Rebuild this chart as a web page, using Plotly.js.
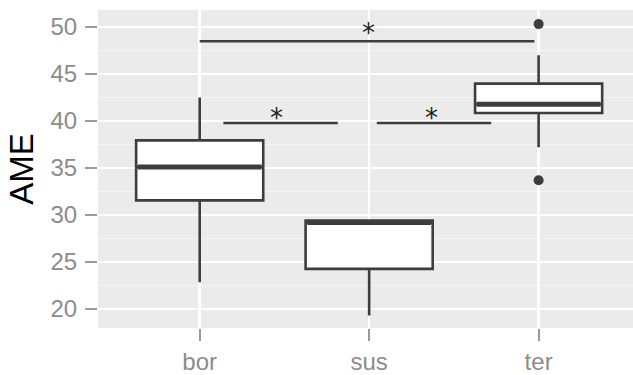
<!DOCTYPE html>
<html>
<head>
<meta charset="utf-8">
<script src="https://cdn.plot.ly/plotly-3.0.1.min.js"></script>
<style>html,body{margin:0;padding:0;background:#fff;}#chart{width:633px;height:375px;}</style>
</head>
<body>
<div id="chart"></div>
<script>
// Categories and box statistics
const categories = ['bor', 'sus', 'ter'];
const positions = [0, 1, 2];
const lowerWhisker = [22.85, 19.3, 37.2];
const q1 = [31.55, 24.27, 40.84];
const median = [35.1, 29.2, 41.77];
const q3 = [37.93, 29.4, 43.97];
const upperWhisker = [42.5, 29.5, 47.0];
const outlierX = [2, 2];
const outlierY = [50.3, 33.7];

// Significance brackets: [x start, x end, y] and star positions
const bracketX0 = [0.0, 0.14, 1.045];
const bracketX1 = [1.975, 0.815, 1.72];
const bracketY = [48.48, 39.78, 39.78];
const starX = [0.996, 0.453, 1.368];
const starY = [49.1, 40.06, 40.06];
const yTicks = [20, 25, 30, 35, 40, 45, 50];

const dark = '#3d3d3d';
const boxWidth = 0.75;

const traces = [];
traces.push({
  type: 'box',
  x: positions,
  q1: q1, median: median, q3: q3,
  lowerfence: lowerWhisker, upperfence: upperWhisker,
  width: boxWidth,
  whiskerwidth: 0,
  fillcolor: '#ffffff',
  line: {color: dark, width: 2.6},
  boxpoints: false,
  hoverinfo: 'skip',
  showlegend: false
});
// thick median lines
const mx = [], my = [];
positions.forEach((p, i) => { mx.push(p - boxWidth/2 + 0.01, p + boxWidth/2 - 0.01, null); my.push(median[i], median[i], null); });
traces.push({type: 'scatter', mode: 'lines', x: mx, y: my, line: {color: dark, width: 5}, hoverinfo: 'skip', showlegend: false});
// outliers
traces.push({type: 'scatter', mode: 'markers', x: outlierX, y: outlierY, marker: {color: dark, size: 10}, hoverinfo: 'skip', showlegend: false});
// brackets
const bx = [], by = [];
bracketX0.forEach((x0, i) => { bx.push(x0, bracketX1[i], null); by.push(bracketY[i], bracketY[i], null); });
traces.push({type: 'scatter', mode: 'lines', x: bx, y: by, line: {color: dark, width: 2.6}, hoverinfo: 'skip', showlegend: false});
traces.push({type: 'scatter', mode: 'text', x: starX, y: starY, text: starX.map(() => '*'), textfont: {family: 'DejaVu Sans', size: 26, color: '#222'}, hoverinfo: 'skip', showlegend: false});

const layout = {
  width: 633, height: 375,
  margin: {l: 98, r: 0, t: 10, b: 47, pad: 0},
  paper_bgcolor: '#ffffff',
  plot_bgcolor: '#EBEBEB',
  showlegend: false,
  font: {family: 'Liberation Sans, Arial, sans-serif'},
  xaxis: {
    range: [-0.6, 2.557],
    tickvals: positions, ticktext: categories,
    ticks: 'outside', ticklen: 12, tickwidth: 2, tickcolor: '#9a9a9a',
    tickfont: {size: 24, color: '#8c8c8c'},
    showgrid: true, gridcolor: '#ffffff', gridwidth: 2.5,
    zeroline: false, showline: false, fixedrange: true
  },
  yaxis: {
    range: [17.98, 51.8],
    tickvals: yTicks,
    ticks: 'outside', ticklen: 12, tickwidth: 2, tickcolor: '#9a9a9a',
    tickfont: {size: 24, color: '#8c8c8c'},
    ticklabelstandoff: 3,
    showgrid: true, gridcolor: '#ffffff', gridwidth: 2.5,
    minor: {dtick: 2.5, tick0: 17.5, showgrid: true, gridcolor: '#F5F5F5', gridwidth: 1.2},
    zeroline: false, showline: false,
    title: {text: 'AME', font: {size: 33, color: '#000000'}, standoff: 6},
    fixedrange: true
  }
};
Plotly.newPlot('chart', traces, layout, {staticPlot: true, displayModeBar: false});
</script>
</body>
</html>
